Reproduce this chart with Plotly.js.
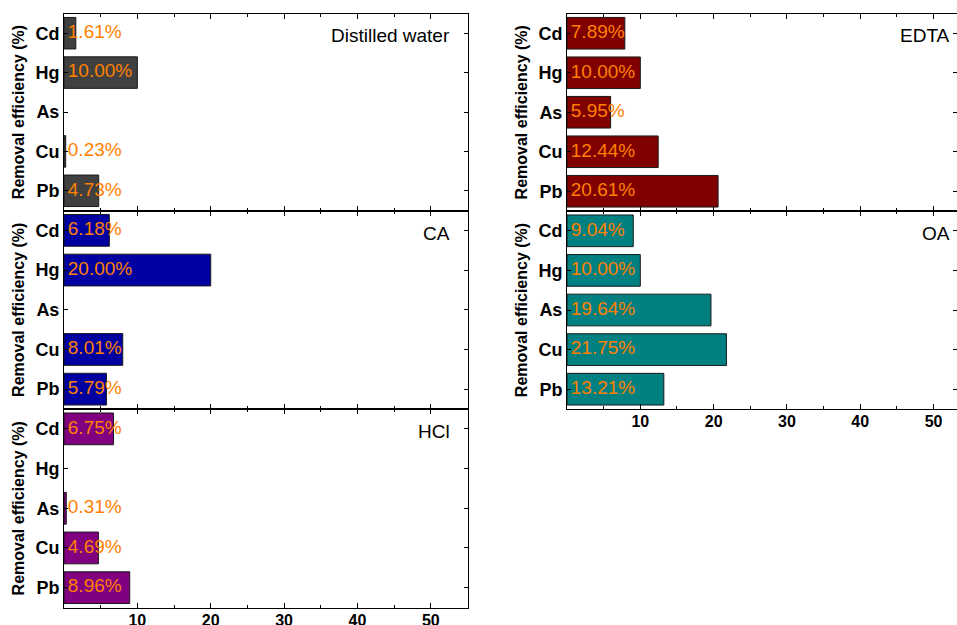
<!DOCTYPE html>
<html>
<head>
<meta charset="utf-8">
<script src="https://cdn.plot.ly/plotly-3.0.1.min.js"></script>
<style>html,body{margin:0;padding:0;background:#fff;}#chart{width:957px;height:625px;}</style>
</head>
<body>
<div id="chart"></div>
<script>
const metals = ['Cd', 'Hg', 'As', 'Cu', 'Pb'];
const distilledWater = [1.61, 10.00, null, 0.23, 4.73];
const caValues = [6.18, 20.00, null, 8.01, 5.79];
const hclValues = [6.75, null, 0.31, 4.69, 8.96];
const edtaValues = [7.89, 10.00, 5.95, 12.44, 20.61];
const oaValues = [9.04, 10.00, 19.64, 21.75, 13.21];
const panelNames = ['Distilled water', 'CA', 'HCl', 'EDTA', 'OA'];
const xTickVals = [10, 20, 30, 40, 50];
const yTitle = 'Removal efficiency (%)';

const W = 957, H = 625;
const FONT = 'Arial, "Liberation Sans", sans-serif';
const series = [distilledWater, caValues, hclValues, edtaValues, oaValues];
const colors = ['#404040', '#0000a0', '#800080', '#800000', '#008080'];
// panel geometry in pixels: [left, right, top, bottom]
const geo = [
  [64, 467.5, 13.5, 210.5],
  [64, 467.5, 210.5, 409],
  [64, 467.5, 409, 607.5],
  [567, 957, 13.5, 211],
  [567, 957, 211, 409]
];
const xRanges = [[0, 55], [0, 55], [0, 55], [0, 53.2], [0, 53.2]];
const bottomPanels = [2, 4];

const data = [];
const layout = {
  width: W, height: H,
  margin: {l: 0, r: 0, t: 0, b: 0},
  paper_bgcolor: '#fff', plot_bgcolor: '#fff',
  showlegend: false,
  font: {family: FONT, color: '#000'},
  annotations: []
};

series.forEach((vals, i) => {
  const n = i + 1;
  const xa = 'x' + (n === 1 ? '' : n), ya = 'y' + (n === 1 ? '' : n);
  data.push({
    type: 'bar', orientation: 'h',
    x: vals, y: metals,
    xaxis: xa, yaxis: ya,
    width: 0.8,
    marker: {color: colors[i], line: {color: '#1a1a1a', width: 1}},
    hoverinfo: 'x+y'
  });
  const tx = [], ty = [], tt = [];
  vals.forEach((v, k) => {
    if (v !== null) { tx.push(0); ty.push(metals[k]); tt.push('\u2009' + v.toFixed(2) + '%'); }
  });
  data.push({
    type: 'scatter', mode: 'text',
    x: tx, y: ty, text: tt,
    textposition: 'middle right',
    textfont: {family: FONT, size: 19, color: '#ff8000'},
    cliponaxis: false,
    xaxis: xa, yaxis: ya, hoverinfo: 'skip'
  });
  const g = geo[i];
  const isBottom = bottomPanels.includes(i);
  layout['xaxis' + (n === 1 ? '' : n)] = {
    domain: [g[0] / W, Math.min(g[1] / W, 1)],
    anchor: ya,
    range: xRanges[i],
    tickvals: xTickVals,
    ticks: 'inside', ticklen: 5, tickwidth: 1, tickcolor: '#000',
    minor: {dtick: 5, tick0: 0, ticks: 'inside', ticklen: 3, tickcolor: '#000'},
    showticklabels: isBottom,
    ticklabelstandoff: -2,
    tickfont: {family: FONT, size: 16, color: '#000', weight: 'bold'},
    showline: true, linecolor: '#000', linewidth: 1, mirror: 'ticks',
    showgrid: false, zeroline: false, fixedrange: true
  };
  layout['yaxis' + (n === 1 ? '' : n)] = {
    domain: [1 - g[3] / H, 1 - g[2] / H],
    anchor: xa,
    type: 'category',
    categoryorder: 'array', categoryarray: metals,
    range: [4.5, -0.5],
    ticks: 'inside', ticklen: 4, tickcolor: '#000',
    tickfont: {family: FONT, size: 18, color: '#000', weight: 'bold'},
    showline: true, linecolor: '#000', linewidth: 1, mirror: 'ticks',
    showgrid: false, zeroline: false, fixedrange: true,
    title: {text: yTitle, font: {family: FONT, size: 16, color: '#000', weight: 'bold'}, standoff: 6}
  };
  layout.annotations.push({
    xref: 'paper', yref: 'paper',
    x: (i < 3 ? 452 : 952) / W, y: 1 - (g[2] + 10) / H,
    xanchor: 'right', yanchor: 'top',
    text: panelNames[i], showarrow: false,
    font: {family: FONT, size: 19, color: '#000'}
  });
});

Plotly.newPlot('chart', data, layout, {displayModeBar: false, staticPlot: true});
</script>
</body>
</html>
